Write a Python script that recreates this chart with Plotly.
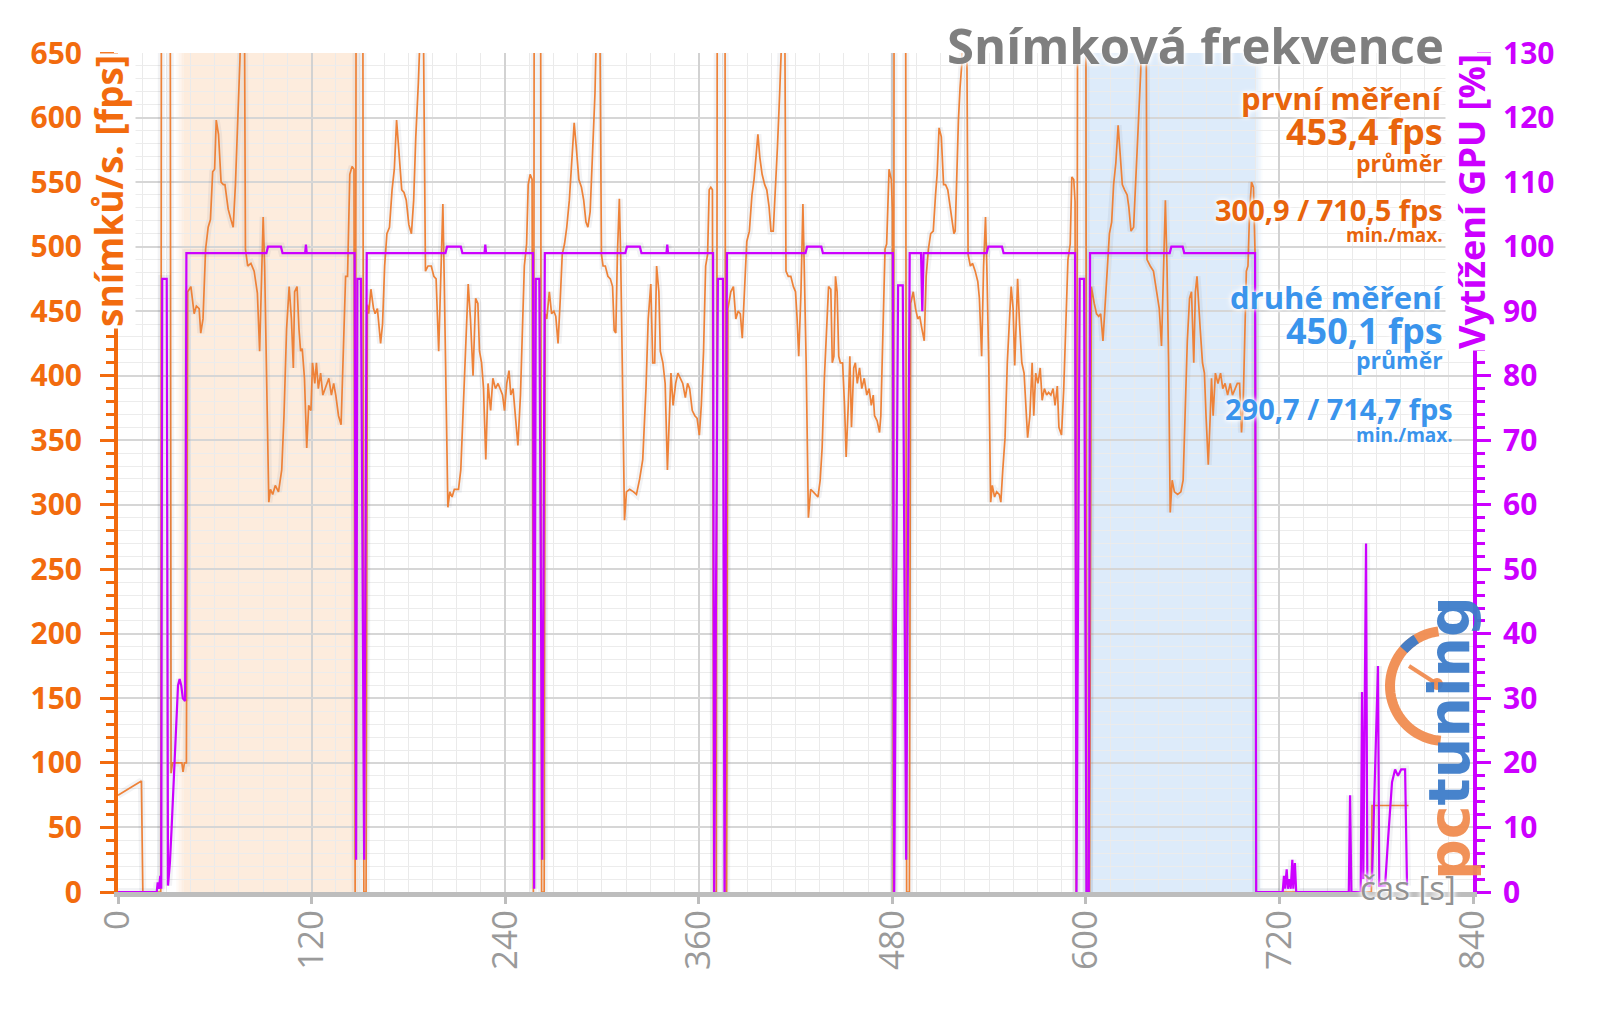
import numpy as np
import plotly.graph_objects as go

# ---------------- data (time [s], value) ----------------
fps_start = [(0, 75), (14.5, 86), (15.4, 0), (26.5, 0), (26.9, 700), (32.4, 700), (32.9, 92),
             (33.8, 100), (39.6, 100), (40.3, 93), (41.2, 100), (42.4, 100)]

fps_cycle1 = [(43.2, 465), (45.2, 469), (47.2, 448), (48.6, 454), (50.3, 452), (51.3, 433), (52.7, 444),
              (54.3, 498), (55.9, 515), (57.3, 521), (58.7, 558), (59.9, 560), (60.9, 598), (62.3, 587),
              (63.9, 550), (65.3, 548), (66.3, 548), (68.3, 529), (70.0, 521), (71.4, 515), (72.8, 548),
              (74.4, 598), (75.6, 645), (76.4, 690), (77.6, 700), (78.4, 680), (79.0, 498), (80.4, 485),
              (82.4, 487), (84.4, 481), (86.4, 464), (87.8, 419), (89.0, 473), (90.0, 523), (90.9, 485),
              (92.0, 410), (93.5, 302), (94.5, 312), (95.9, 308), (97.5, 315), (99.5, 310), (101.5, 327),
              (102.9, 369), (104.5, 436), (106.1, 469), (107.5, 444), (108.7, 406), (109.5, 465),
              (111.0, 469), (112.2, 436), (113.2, 419), (114.2, 421), (115.6, 398), (117.0, 344),
              (118.2, 377), (119.6, 373), (120.6, 410), (122.0, 394), (123.0, 410), (124.2, 390),
              (125.6, 402), (127.0, 385), (128.6, 390), (130.7, 398), (132.3, 385), (133.7, 394),
              (135.0, 385), (136.7, 369), (138.3, 362), (139.7, 419), (141.1, 477), (142.3, 477),
              (143.7, 556), (145.1, 562), (146.3, 560),
              (147.0, 0), (147.6, 700), (151.8, 700), (152.4, 0), (153.8, 0)]

fps_cycle2 = [(154.6, 455), (155.4, 448), (156.8, 467), (158.4, 452), (159.4, 448), (160.8, 452), (162.0, 435),
              (162.8, 425), (164.0, 440), (165.3, 485), (166.7, 510), (168.3, 515), (169.9, 544), (171.3, 560),
              (172.7, 598), (174.3, 573), (175.9, 544), (177.3, 542), (178.7, 536), (180.3, 517), (181.9, 510),
              (183.3, 536), (184.6, 585), (186.2, 627), (187.2, 672), (188.3, 700), (189.2, 690), (190.6, 481),
              (192.2, 485), (194.2, 485), (195.8, 477), (197.2, 475), (198.8, 419), (200.2, 473), (201.4, 533),
              (202.2, 477), (203.2, 410), (204.5, 298), (205.7, 310), (207.1, 306), (208.5, 312), (211.1, 312),
              (212.5, 327), (214.1, 377), (215.7, 427), (217.1, 471), (218.5, 444), (220.1, 400), (221.7, 460),
              (223.1, 456), (224.1, 419), (225.4, 410), (226.6, 390), (228.0, 335), (229.4, 394), (231.0, 373),
              (232.4, 398), (234.0, 390), (235.6, 394), (237.0, 390), (238.4, 385), (239.6, 373), (241.0, 394),
              (242.4, 404), (243.5, 385), (244.9, 390), (246.3, 369), (247.9, 346), (249.5, 385), (250.9, 452),
              (251.9, 485), (253.3, 502), (254.3, 548), (255.5, 556), (256.7, 552),
              (257.5, 0), (258.0, 700), (262.0, 700), (262.6, 0), (264.2, 0)]

fps_cycle3 = [(264.8, 448), (265.8, 444), (267.4, 465), (268.8, 448), (270.2, 450), (271.4, 446), (272.8, 425),
              (274.2, 460), (275.4, 494), (276.8, 502), (278.2, 515), (279.8, 536), (281.4, 565), (282.8, 596),
              (284.1, 577), (285.7, 552), (287.3, 546), (288.7, 536), (290.1, 519), (291.3, 515), (292.7, 527),
              (294.1, 569), (295.7, 619), (296.5, 665), (297.6, 700), (298.7, 680), (299.7, 494), (300.7, 485),
              (302.1, 485), (303.7, 477), (305.2, 475), (306.6, 469), (307.6, 435), (308.6, 433), (309.6, 494),
              (310.8, 537), (311.6, 494), (312.6, 410), (314.0, 288), (315.2, 310), (317.2, 312), (319.6, 310),
              (321.4, 308), (323.4, 320), (325.3, 335), (327.3, 390), (328.7, 444), (330.3, 471), (331.5, 410),
              (332.7, 410), (333.9, 485), (335.3, 465), (336.2, 419), (337.8, 410), (339.2, 394), (340.6, 327),
              (341.8, 365), (342.8, 402), (344.1, 377), (345.7, 394), (347.1, 402), (348.5, 398), (350.1, 394),
              (351.7, 383), (353.1, 394), (354.4, 390), (356.0, 373), (357.6, 369), (359.0, 367), (360.4, 354),
              (361.6, 377), (363.0, 419), (364.3, 485), (365.5, 494), (366.5, 544), (367.5, 546), (368.5, 544),
              (369.3, 0), (370.9, 0), (371.5, 700), (376.3, 700), (376.9, 0), (377.3, 0)]

fps_cycle4 = [(378.1, 452), (379.9, 465), (381.5, 469), (383.0, 444), (384.4, 450), (385.8, 448), (387.0, 429),
              (388.4, 473), (389.8, 504), (391.4, 512), (393.0, 540), (394.3, 552), (395.7, 577), (396.7, 587),
              (397.9, 569), (399.3, 556), (400.9, 548), (402.2, 544), (403.6, 531), (404.8, 512), (406.2, 512),
              (407.6, 544), (408.8, 577), (410.2, 619), (411.2, 660), (412.4, 695), (413.4, 670), (414.1, 481),
              (415.5, 477), (417.1, 477), (418.7, 469), (420.0, 465), (421.0, 444), (422.0, 415), (423.4, 465),
              (424.6, 533), (425.4, 485), (426.6, 410), (428.0, 290), (429.4, 312), (431.0, 310), (432.5, 308),
              (433.9, 306), (435.3, 319), (436.5, 344), (437.9, 398), (439.3, 444), (440.5, 469), (441.9, 467),
              (442.8, 410), (443.8, 415), (444.8, 477), (445.8, 465), (446.8, 415), (447.8, 410), (449.2, 410),
              (450.4, 377), (451.4, 337), (452.7, 377), (453.7, 415), (454.7, 360), (456.1, 406), (457.1, 410),
              (458.3, 394), (459.7, 406), (461.1, 390), (462.6, 398), (464.2, 385), (465.6, 390), (467.0, 377),
              (468.2, 385), (469.0, 369), (470.6, 365), (472.1, 356), (472.9, 369), (474.5, 452), (475.5, 498),
              (476.5, 502), (478.0, 560), (479.4, 552), (480.1, 527),
              (480.7, 0), (481.1, 700), (488.3, 700), (488.9, 0), (490.6, 0)]

fps_cycle5 = [(491.4, 456), (493.0, 465), (494.4, 452), (495.8, 444), (497.0, 446), (498.4, 436), (499.8, 427),
              (501.0, 477), (502.4, 498), (503.8, 510), (505.4, 512), (506.8, 540), (507.8, 556), (509.0, 592),
              (510.4, 585), (511.8, 548), (513.0, 548), (514.4, 544), (515.4, 536), (516.8, 523), (518.2, 510),
              (519.0, 512), (519.8, 556), (521.0, 598), (522.0, 623), (523.0, 640), (524.0, 680), (525.2, 695),
              (526.2, 660), (527.0, 494), (528.4, 485), (529.8, 487), (531.4, 481), (533.0, 473), (534.0, 460),
              (535.4, 415), (536.6, 485), (537.8, 523), (538.6, 485), (539.8, 410), (541.0, 302), (542.0, 315),
              (543.4, 306), (544.7, 310), (546.3, 308), (547.3, 302), (548.5, 327), (549.9, 352), (551.3, 410),
              (552.7, 440), (553.7, 469), (554.9, 452), (555.9, 408), (556.9, 444), (557.7, 475), (558.9, 440),
              (560.3, 410), (561.7, 402), (562.9, 373), (563.9, 352), (565.3, 369), (566.7, 410), (567.7, 369),
              (568.9, 402), (570.3, 394), (571.7, 406), (572.9, 381), (574.3, 390), (575.7, 385), (576.9, 387),
              (578.3, 385), (579.7, 390), (580.9, 377), (582.3, 392), (583.3, 360), (584.9, 354), (586.3, 390),
              (587.7, 452), (588.9, 490), (590.3, 502), (591.3, 554), (592.5, 552), (593.3, 535),
              (594.0, 0), (594.9, 700), (600.0, 700), (600.6, 0), (602.3, 0)]

fps_cycle6 = [(603.4, 469), (605.2, 456), (606.6, 448), (608.0, 446), (609.2, 448), (610.6, 427), (611.6, 448),
              (613.2, 481), (614.6, 510), (616.0, 519), (617.2, 548), (618.6, 565), (620.0, 594), (621.2, 573),
              (622.6, 548), (624.0, 544), (625.6, 540), (626.6, 531), (628.0, 512), (629.6, 515), (631.2, 556),
              (632.6, 598), (634.0, 635), (635.0, 680), (636.4, 705), (637.4, 670), (637.9, 490), (639.9, 485),
              (641.9, 481), (643.9, 465), (645.5, 452), (646.9, 423), (647.9, 465), (649.3, 536), (650.3, 485),
              (651.3, 410), (652.3, 294), (653.5, 319), (654.9, 310), (656.9, 308), (658.9, 310), (660.3, 319),
              (661.5, 369), (662.9, 427), (664.3, 460), (665.5, 465), (666.9, 410), (667.9, 465), (668.9, 477),
              (669.9, 460), (670.9, 436), (672.3, 410), (673.5, 402), (674.5, 369), (675.9, 331), (677.1, 369),
              (677.9, 398), (678.9, 369), (680.3, 402), (681.9, 394), (683.5, 402), (684.9, 390), (686.3, 394),
              (687.9, 385), (689.5, 394), (690.9, 385), (692.3, 390), (693.9, 394), (695.3, 394), (696.5, 356),
              (697.5, 377), (698.5, 440), (699.5, 481), (700.5, 485), (701.5, 527), (702.7, 550), (703.9, 546),
              (704.9, 494), (705.6, 0)]

fps_end = [(777.0, 0), (777.4, 67), (800.0, 67)]

gpu_start = [(0, 0), (24.0, 0), (24.6, 1.5), (25.4, 0.5), (26.2, 2.5), (26.8, 0.5), (27.4, 95), (30.2, 95),
             (31.0, 1), (32.2, 4.6), (33.2, 9.7), (34.2, 15), (35.8, 23.8), (37.2, 32), (38.2, 33), (39.2, 32),
             (40.2, 30), (41.6, 29.6), (42.4, 99)]
gpu_cycle1 = [(92, 99), (93, 100), (101, 100), (102, 99), (116, 99), (116.5, 100.3), (117, 99), (146.7, 99),
              (147.6, 5), (148.4, 95), (150.6, 95), (152.6, 5), (154.2, 99)]
gpu_cycle2 = [(203, 99), (204, 100), (212.5, 100), (213.5, 99), (227.2, 99), (227.7, 100.3), (228.2, 99),
              (257.3, 99), (258.0, 0.5), (259.0, 95), (261.2, 95), (263.0, 5), (264.6, 99)]
gpu_cycle3 = [(314.5, 99), (315.5, 100), (323.5, 100), (324.5, 99), (340.0, 99), (340.5, 100.3), (341.0, 99),
              (368.9, 99), (369.6, 0), (371.9, 95), (375.0, 95), (376.0, 0), (377.5, 99)]
gpu_cycle4 = [(426.2, 99), (427.2, 100), (436.0, 100), (437.0, 99), (480.4, 99), (481.2, 0), (483.6, 94),
              (486.5, 94), (488.6, 5), (490.8, 99)]
gpu_cycle5 = [(497.8, 99), (498.6, 90), (499.4, 99), (538.5, 99), (539.5, 100), (548.0, 100), (549.0, 99),
              (593.3, 99), (594.2, 0), (596.2, 95), (598.9, 95), (600.4, 0), (601.8, 0), (602.6, 99)]
gpu_cycle6 = [(652, 99), (653, 100), (660, 100), (661, 99), (704.9, 99), (705.6, 0)]
gpu_end = [(722.0, 0), (722.8, 2.5), (723.4, 0.5), (724.5, 3.5), (725.2, 0.5), (726.2, 2), (727.0, 0.5),
           (728.0, 5), (728.6, 0.5), (729.6, 4.5), (730.4, 0), (763.0, 0), (763.8, 15), (764.6, 0),
           (770.4, 0), (771.2, 31), (772.0, 2), (773.7, 54), (774.5, 1), (776.0, 1), (777.4, 2), (781.1, 35),
           (781.9, 1), (785.5, 1), (787.3, 8), (788.5, 12), (789.8, 17), (791.7, 19), (793.5, 18),
           (795.5, 19), (797.9, 19), (799.1, 1)]

band_first = (40.5, 147.0)    # první měření
band_second = (601.0, 705.0)  # druhé měření

x_ticks = [0, 120, 240, 360, 480, 600, 720, 840]

labels_first = ["první měření", "453,4 fps", "průměr", "300,9 / 710,5 fps", "min./max."]
labels_second = ["druhé měření", "450,1 fps", "průměr", "290,7 / 714,7 fps", "min./max."]


def join(*segs):
    t, v = [], []
    for s in segs:
        for a, b in s:
            t.append(a)
            v.append(b)
    return t, v


fps_t, fps_v = join(fps_start, fps_cycle1, fps_cycle2, fps_cycle3, fps_cycle4, fps_cycle5, fps_cycle6, fps_end)
gpu_t, gpu_v = join(gpu_start, gpu_cycle1, gpu_cycle2, gpu_cycle3, gpu_cycle4, gpu_cycle5, gpu_cycle6, gpu_end)

# ---------------- figure ----------------
# page body has an 8px margin, so the figure is 16px smaller than the window
OFF = 8
W, H = 1600 - 2 * OFF, 1009 - 2 * OFF
PL, PT, PW, PH = 118, 53, 1355, 839          # plot area in window pixels
L, T = PL - OFF, PT - OFF
R, B = W - L - PW, H - T - PH


def px(x):   # window pixel -> paper
    return (x - PL) / PW


def py(y):
    return (PT + PH - y) / PH


ORANGE_AX = "#F26B0E"
ORANGE_TXT = "#E8640C"
ORANGE_LINE = "#EE8238"
MAGENTA = "#CC00FF"
BLUE_TXT = "#3A94EC"
GRAY_T = "#7F7F7F"
FONT = "Open Sans"
HALO = "0px 0px 3px #ffffff, 0px 0px 5px #ffffff, 0px 0px 7px #ffffff"

fig = go.Figure()
fig.add_trace(go.Scatter(x=fps_t, y=fps_v, mode="lines", hoverinfo="skip",
                         line=dict(color="rgba(70,85,110,0.07)", width=7)))
fig.add_trace(go.Scatter(x=fps_t, y=fps_v, mode="lines", name="fps",
                         line=dict(color=ORANGE_LINE, width=1.7)))
fig.add_trace(go.Scatter(x=gpu_t, y=gpu_v, mode="lines", yaxis="y2", hoverinfo="skip",
                         line=dict(color="rgba(70,85,110,0.07)", width=8)))
fig.add_trace(go.Scatter(x=gpu_t, y=gpu_v, mode="lines", yaxis="y2", name="GPU",
                         line=dict(color=MAGENTA, width=2.2)))

shapes = []


def band(a, b, rgb):
    r, g, bl = rgb
    shapes.append(dict(type="rect", xref="x", yref="paper", x0=a, x1=b, y0=0, y1=1, layer="below",
                       line=dict(width=0), fillcolor=f"rgb({r},{g},{bl})"))
    w = 0.9
    for k in range(1, 6):
        al = 1 - k / 6
        for x0, x1 in ((a - k * w, a - (k - 1) * w), (b + (k - 1) * w, b + k * w)):
            shapes.append(dict(type="rect", xref="x", yref="paper", x0=x0, x1=x1, y0=0, y1=1,
                               layer="below", line=dict(width=0),
                               fillcolor=f"rgba({r},{g},{bl},{al:.2f})"))


band(*band_first, (253, 236, 221))
band(*band_second, (221, 235, 250))

# logo gauge (decoration)
cx, cy, rad = 1445, 686, 55
ang = np.linspace(np.pi / 2 + 0.12, 3 * np.pi / 2 - 0.08, 40)
path = "M " + " L ".join(f"{px(cx + rad * np.cos(a)):.5f},{py(cy - rad * np.sin(a)):.5f}" for a in ang)
shapes.append(dict(type="path", xref="paper", yref="paper", path=path,
                   line=dict(color="rgba(240,140,80,0.95)", width=10)))
ang2 = np.linspace(np.pi / 2 + 0.55, np.pi / 2 + 0.85, 6)
path2 = "M " + " L ".join(f"{px(cx + rad * np.cos(a)):.5f},{py(cy - rad * np.sin(a)):.5f}" for a in ang2)
shapes.append(dict(type="path", xref="paper", yref="paper", path=path2,
                   line=dict(color="rgba(61,124,201,0.95)", width=10)))
shapes.append(dict(type="line", xref="paper", yref="paper", x0=px(cx - 36), y0=py(cy - 20), x1=px(cx - 8),
                   y1=py(cy - 2), line=dict(color="rgba(240,140,80,0.95)", width=4)))
shapes.append(dict(type="circle", xref="paper", yref="paper", x0=px(cx - 14), x1=px(cx - 2), y0=py(cy + 4),
                   y1=py(cy - 8), fillcolor="rgba(240,140,80,0.95)", line=dict(width=0)))

ann = []


def txt(text, x, y, size, color, bold=True, anchor="right", **kw):
    ann.append(dict(text=text, x=px(x), y=py(y), xref="paper", yref="paper",
                    xanchor=anchor, yanchor="middle", showarrow=False,
                    font=dict(family=FONT, size=size, color=color, shadow=HALO,
                              weight="bold" if bold else "normal"), **kw))


txt("Snímková frekvence", 1446, 45, 49, GRAY_T)
ys1 = [98, 131, 163, 210, 235]
sz = [31, 36, 23, 29, 19]
for s, y, z in zip(labels_first, ys1, sz):
    txt(s, 1445, y, z, ORANGE_TXT)
ys2 = [297, 331, 360, 408, 435]
xs2 = [1445, 1445, 1445, 1455, 1455]
for s, x, y, z in zip(labels_second, xs2, ys2, sz):
    txt(s, x, y, z, BLUE_TXT)

txt("snímků/s. [fps]", 108, 191, 37, ORANGE_AX, anchor="center", textangle=-90, bgcolor="white")
txt("Vytížení GPU [%]", 1472, 202, 36, MAGENTA, anchor="center", textangle=-90, bgcolor="white")
txt("čas [s]", 1458, 887, 33, "#929292", bold=False)

ann.append(dict(text='<b><span style="color:rgba(240,140,80,0.95)">pc</span>'
                     '<span style="color:rgba(61,124,201,0.95)">tuning</span></b>',
                x=px(1449), y=py(738), xref="paper", yref="paper", xanchor="center", yanchor="middle",
                textangle=-90, showarrow=False, font=dict(family="DejaVu Sans", size=57)))

fig.update_layout(
    width=W, height=H, margin=dict(l=L, r=R, t=T, b=B, pad=0),
    paper_bgcolor="white", plot_bgcolor="white", showlegend=False,
    shapes=shapes, annotations=ann,
    xaxis=dict(range=[0, 840], tickmode="array", tickvals=x_ticks, ticktext=[str(v) for v in x_ticks],
               tickangle=-90, tickfont=dict(family=FONT, size=35, color="#9A9A9A"),
               showline=True, linecolor="#BDBDBD", linewidth=5, ticks="outside", ticklen=7, tickwidth=3,
               tickcolor="#BDBDBD", showgrid=True, gridcolor="#D2D2D2", gridwidth=1.5, zeroline=False,
               ticklabelstandoff=-8,
               minor=dict(dtick=15, tick0=0, showgrid=True, gridcolor="#EAEAEA", gridwidth=1)),
    yaxis=dict(range=[0, 650], dtick=50, tick0=0,
               tickfont=dict(family=FONT, size=30, color=ORANGE_AX, weight="bold"),
               showline=True, linecolor=ORANGE_AX, linewidth=4, ticks="outside", ticklen=14, tickwidth=3,
               tickcolor=ORANGE_AX, showgrid=True, gridcolor="#D6D6D6", gridwidth=1.5, zeroline=False,
               ticklabelstandoff=12,
               minor=dict(dtick=10, tick0=0, ticks="outside", ticklen=8, tickwidth=3, tickcolor=ORANGE_AX,
                          showgrid=True, gridcolor="#ECECEC", gridwidth=1)),
    yaxis2=dict(range=[0, 130], dtick=10, tick0=0, overlaying="y", side="right",
                tickfont=dict(family=FONT, size=30, color=MAGENTA, weight="bold"),
                showline=True, linecolor=MAGENTA, linewidth=4, ticks="outside", ticklen=14, tickwidth=3,
                tickcolor=MAGENTA, showgrid=False, zeroline=False, ticklabelstandoff=6,
                minor=dict(dtick=2, tick0=0, ticks="outside", ticklen=8, tickwidth=3, tickcolor=MAGENTA)),
)

fig.write_html("out.html")
